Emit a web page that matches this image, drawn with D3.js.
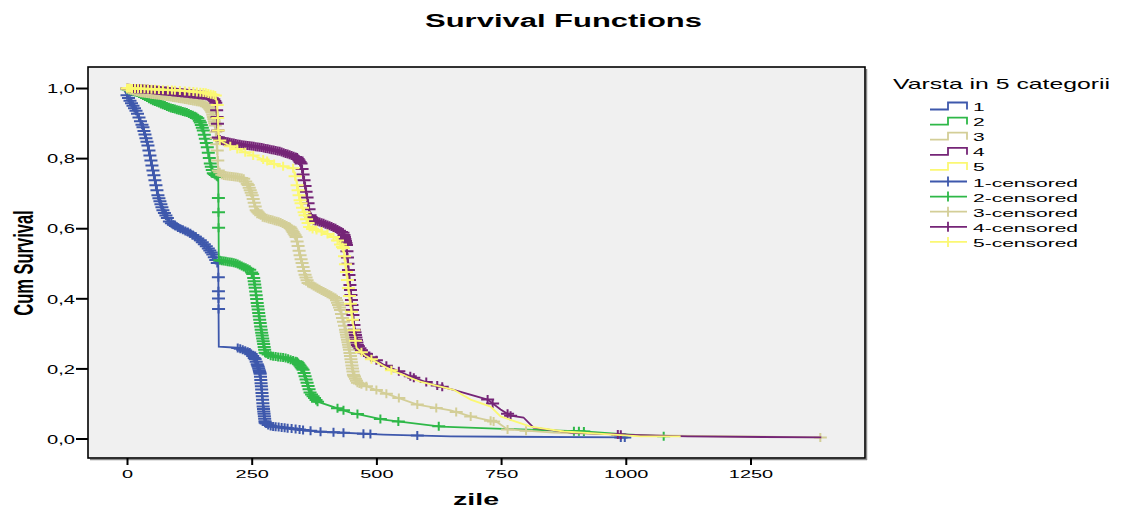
<!DOCTYPE html>
<html><head><meta charset="utf-8">
<script src="https://cdn.jsdelivr.net/npm/d3@7"></script>
<style>
body{margin:0;background:#fff}
svg{display:block}
text{font-family:"Liberation Sans",Arial,Helvetica,sans-serif;fill:#000}
</style>
</head><body>
<svg id="chart" width="1123" height="509"></svg>
<script>
// ---------------- data ----------------
const groups = ["1","2","3","4","5"];
const colors = ["#3e58ac","#2eb848","#d3ce97","#752577","#fbf873"];
const xTicks = [0,250,500,750,1000,1250];
const xTickLabels = ["0","250","500","750","1000","1250"];
const yTicks = [0,0.2,0.4,0.6,0.8,1.0];
const yTickLabels = ["0,0","0,2","0,4","0,6","0,8","1,0"];

// survival curves [time (zile), cumulative survival]
const curve1 = [[-8,1.0],[6,0.964],[20,0.93],[32,0.888],[42,0.836],[52,0.765],[62,0.694],[72,0.651],[86,0.617],[100,0.603],[127,0.586],[147,0.566],[161,0.546],[173,0.523],[181,0.501],[183,0.495],[184,0.262],[221,0.259],[247,0.245],[257,0.226],[263,0.205],[267,0.185],[270,0.14],[273,0.091],[277,0.045],[285,0.036],[313,0.031],[382,0.020],[514,0.011],[649,0.006],[1000,0.003],[1005,0.003]];
const curve2 = [[-8,1.0],[20,0.987],[52,0.964],[86,0.944],[120,0.930],[141,0.916],[147,0.902],[153,0.879],[161,0.831],[167,0.785],[173,0.757],[180,0.748],[183,0.745],[184,0.509],[217,0.501],[247,0.481],[253,0.467],[257,0.43],[261,0.387],[269,0.310],[277,0.245],[287,0.236],[317,0.230],[341,0.219],[353,0.196],[361,0.159],[367,0.131],[382,0.105],[418,0.088],[448,0.074],[514,0.054],[629,0.034],[789,0.026],[916,0.020],[1000,0.012],[1080,0.006]];
const curve3 = [[-8,1.0],[26,0.987],[66,0.979],[106,0.970],[147,0.959],[163,0.947],[171,0.930],[177,0.893],[181,0.822],[183,0.765],[191,0.751],[233,0.743],[243,0.723],[251,0.694],[259,0.651],[271,0.632],[307,0.617],[327,0.603],[339,0.575],[347,0.523],[357,0.467],[363,0.444],[388,0.424],[418,0.401],[428,0.367],[438,0.310],[446,0.253],[454,0.182],[462,0.159],[514,0.131],[582,0.097],[649,0.080],[689,0.063],[743,0.046],[763,0.026],[855,0.017],[1050,0.009],[1392,0.003]];
const curve4 = [[-8,1.0],[46,0.996],[106,0.987],[157,0.979],[173,0.970],[179,0.956],[181,0.908],[183,0.859],[187,0.851],[227,0.839],[267,0.831],[307,0.819],[341,0.802],[349,0.785],[355,0.737],[361,0.688],[367,0.637],[373,0.623],[394,0.614],[418,0.600],[434,0.586],[440,0.552],[444,0.481],[450,0.395],[456,0.310],[462,0.267],[472,0.248],[514,0.211],[574,0.174],[614,0.154],[655,0.139],[723,0.111],[749,0.083],[769,0.065],[795,0.060],[815,0.031],[890,0.017],[990,0.011],[1124,0.006],[1392,0.003]];
const curve5 = [[-8,1.0],[46,0.997],[106,0.993],[157,0.987],[177,0.979],[181,0.950],[183,0.879],[185,0.851],[207,0.834],[247,0.811],[301,0.780],[333,0.771],[339,0.737],[347,0.680],[357,0.637],[367,0.600],[394,0.589],[418,0.572],[434,0.543],[442,0.452],[452,0.339],[460,0.259],[478,0.236],[528,0.196],[588,0.162],[655,0.139],[689,0.111],[729,0.091],[749,0.063],[809,0.034],[876,0.020],[1030,0.006],[1110,0.006]];

// censored times (marks are placed on the curve at that time)
const censored1 = [0,3,6,9,12,15,18,21,24,27,30,32,34,36,38,40,42,44,46,48,50,52,54,56,58,60,62,64,66,68,70,72,75,78,81,85,89,93,97,102,107,112,117,122,127,132,137,142,147,151,155,159,163,166,169,172,175,178,181,183.15,183.32,183.41,183.54,222,227,232,237,242,246,249,252,255,257,259,261,262,263,264,265,265.7,266.4,267,267.6,268.2,268.8,269.4,270,270.6,271.2,271.8,272.4,273,273.6,274.2,274.8,275.4,276,276.6,277,279,283,288,293,298,304,310,316,322,330,338,346,353,368,388,414,434,474,488,582,990,998];
const censored2 = [0,4,8,12,16,20,24,28,32,36,40,44,48,52,56,60,64,68,72,76,80,84,88,92,96,100,104,108,112,116,120,124,128,132,136,139,142,145,147,149,151,153,155,157,159,161,163,165,167,169,171,173,175,177,180,182,183.25,183.42,183.61,186,190,194,198,202,206,210,214,218,222,226,230,234,238,242,246,250,252,254,255,256,257,258,259,260,261,262,263,264,265,266,267,268,269,270,271,272,273,274,275,276,277,279,283,288,293,298,303,308,313,318,323,328,333,338,341,343,345,347,349,351,353,355,357,359,361,363,365,367,370,373,376,379,382,422,434,462,508,544,625,896,906,916,1076];
const censored3 = [0,4,8,12,16,20,24,28,32,36,40,44,48,52,56,60,64,68,72,76,80,84,88,92,96,100,104,108,112,116,120,124,128,132,136,140,144,148,152,156,160,162,164,166,168,170,171,172,173,174,175,176,177,178,179,180,181,182,183,186,190,194,198,202,206,210,214,218,222,226,230,234,238,241,243,245,247,249,251,253,255,257,259,261,263,265,268,272,276,280,284,288,292,296,300,304,308,312,316,320,324,327,329,331,333,335,337,339,341,343,345,347,349,351,353,355,357,359,361,363,366,370,374,378,382,386,390,394,398,402,406,410,414,418,420,422,424,426,428,430,432,434,436,438,439,440,441,442,443,444,445,446,447,448,449,450,451,452,453,454,455,456,458,460,462,466,470,480,500,520,545,582,620,660,689,729,735,763,800,1390];
const censored4 = [0,3,6,9,12,15,18,21,24,27,30,33,36,39,42,45,48,51,54,57,60,63,66,69,72,75,78,81,84,87,90,93,96,99,102,105,108,111,114,117,120,123,126,129,132,135,138,141,144,147,150,153,156,159,162,165,168,171,174,176,178,179.8,180.6,181.4,182.2,183,186,190,194,198,202,206,210,214,218,222,226,230,234,238,242,246,250,254,258,262,266,270,274,278,282,286,290,294,298,302,306,310,314,318,322,326,330,334,338,341,343,345,347,349,351,353,355,357,359,361,363,365,367,369,371,374,378,382,386,390,394,398,402,406,410,414,418,422,426,430,433,435,436,437,438,439,440,441,442,443,444,445,446,447,448,449,450,451,452,453,454,455,456,457,458,459,460,461,462,464,467,470,475,480,490,500,520,545,568,575,600,622,632,723,733,763,769,984,990];
const censored5 = [0,3,6,10,16,22,28,35,42,49,56,64,72,82,90,96,106,116,125,133,140,147,153,158,163,168,173,177,180.8,182,183,186,207,221,237,253,273,281,295,313,333,337,341,343,345,347,349,352,355,357,360,363,366,372,380,390,402,414,422,428,432,434,436,438,440,442,444,446,448,450,452,455,458,470,490,530];

const curves = [curve1,curve2,curve3,curve4,curve5];
const censored = [censored1,censored2,censored3,censored4,censored5];
const legendLabels = groups.concat(groups.map(g => g + "-censored"));

// ---------------- layout ----------------
const svg = d3.select("#chart");
const P = {left:88, right:865, top:67, bottom:458};
const x = d3.scaleLinear().domain([-78.2, 1479.6]).range([P.left, P.right]);
const y = d3.scaleLinear().domain([-0.0556, 1.06]).range([P.bottom, P.top]);

function stretchText(parent, px, py, str, o) {
  return parent.append("text")
    .attr("transform", `translate(${px},${py}) scale(${o.sx},1)` + (o.rot ? ` rotate(${o.rot})` : ""))
    .attr("text-anchor", o.anchor || "start")
    .style("font-size", o.size + "px")
    .style("font-weight", o.weight || "normal")
    .text(str);
}

// title
stretchText(svg, 563.5, 27, "Survival Functions", {sx:1.72, size:18, weight:"bold", anchor:"middle"});

// plot background + frame
svg.append("line").attr("x1", P.right + 1.5).attr("x2", P.right + 1.5).attr("y1", P.top + 2).attr("y2", P.bottom + 2)
  .attr("stroke", "#8a8a8a").attr("stroke-width", 1.5);
svg.append("line").attr("x1", P.left + 2).attr("x2", P.right + 2).attr("y1", P.bottom + 1.5).attr("y2", P.bottom + 1.5)
  .attr("stroke", "#8a8a8a").attr("stroke-width", 1.5);
svg.append("rect").attr("x", P.left).attr("y", P.top)
  .attr("width", P.right - P.left).attr("height", P.bottom - P.top)
  .attr("fill", "#f0f0f0").attr("stroke", "#000").attr("stroke-width", 1.6);

// axes
const yAxis = svg.append("g").attr("transform", `translate(${P.left},0)`)
  .call(d3.axisLeft(y).tickValues(yTicks).tickSize(12).tickPadding(0)
    .tickFormat((d,i) => yTickLabels[i]));
yAxis.select(".domain").remove();
yAxis.selectAll(".tick line").attr("stroke", "#000").attr("stroke-width", 2);
yAxis.selectAll(".tick text")
  .attr("x", null).attr("dy", null).attr("fill", "#000")
  .attr("transform", "translate(-13,4.7) scale(1.55,1)")
  .attr("text-anchor", "end")
  .style("font-size", "13px").style("font-family", null);

const xAxis = svg.append("g").attr("transform", `translate(0,${P.bottom})`)
  .call(d3.axisBottom(x).tickValues(xTicks).tickSize(7).tickPadding(0)
    .tickFormat((d,i) => xTickLabels[i]));
xAxis.select(".domain").remove();
xAxis.selectAll(".tick line").attr("stroke", "#000").attr("stroke-width", 2);
xAxis.selectAll(".tick text")
  .attr("y", null).attr("dy", null).attr("fill", "#000")
  .attr("transform", "translate(0,20) scale(1.9,1)")
  .attr("text-anchor", "middle")
  .style("font-size", "10.5px").style("font-family", null);

// axis titles
stretchText(svg, 33, 263, "Cum Survival", {sx:1.7, size:16.5, weight:"bold", anchor:"middle", rot:-90});
stretchText(svg, 476, 505, "zile", {sx:1.68, size:17, weight:"bold", anchor:"middle"});

// ---------------- curves ----------------
function sAt(c, t) {
  if (t <= c[0][0]) return c[0][1];
  for (let i = 0; i < c.length - 1; i++) {
    const a = c[i], b = c[i+1];
    if (t >= a[0] && t <= b[0]) {
      return b[0] === a[0] ? b[1] : a[1] + (b[1] - a[1]) * (t - a[0]) / (b[0] - a[0]);
    }
  }
  return c[c.length-1][1];
}
const line = d3.line().x(d => x(d[0])).y(d => y(d[1])).curve(d3.curveLinear);
const CW = 6.5, CH = 4.5;
const plot = svg.append("g");
curves.forEach((c, gi) => {
  const g = plot.append("g");
  g.append("path").datum(c).attr("d", line)
    .attr("fill", "none").attr("stroke", colors[gi]).attr("stroke-width", 1.8);
  g.selectAll("path.cens").data(censored[gi]).join("path")
    .attr("class", "cens")
    .attr("d", t => {
      const px = x(t), py = y(sAt(c, t));
      return `M${px-CW},${py}H${px+CW}M${px},${py-CH}V${py+CH}`;
    })
    .attr("fill", "none").attr("stroke", colors[gi]).attr("stroke-width", 2);
});

// ---------------- legend ----------------
const leg = svg.append("g");
stretchText(leg, 893, 89, "Varsta in 5 categorii", {sx:1.77, size:14});
legendLabels.forEach((lab, i) => {
  const cy = 107 + 15.1 * i;
  const col = colors[i % 5];
  if (i < 5) {
    leg.append("path")
      .attr("d", `M930,${cy+2.5}H948V${cy-4.5}H967V${cy+2.5}`)
      .attr("fill", "none").attr("stroke", col).attr("stroke-width", 1.8);
  } else {
    leg.append("path")
      .attr("d", `M930,${cy-1}H967M948,${cy-6}V${cy+4}`)
      .attr("fill", "none").attr("stroke", col).attr("stroke-width", 1.8);
  }
  stretchText(leg, 973, cy + 4, lab, {sx:2.0, size:10.5});
});
</script>
</body></html>
